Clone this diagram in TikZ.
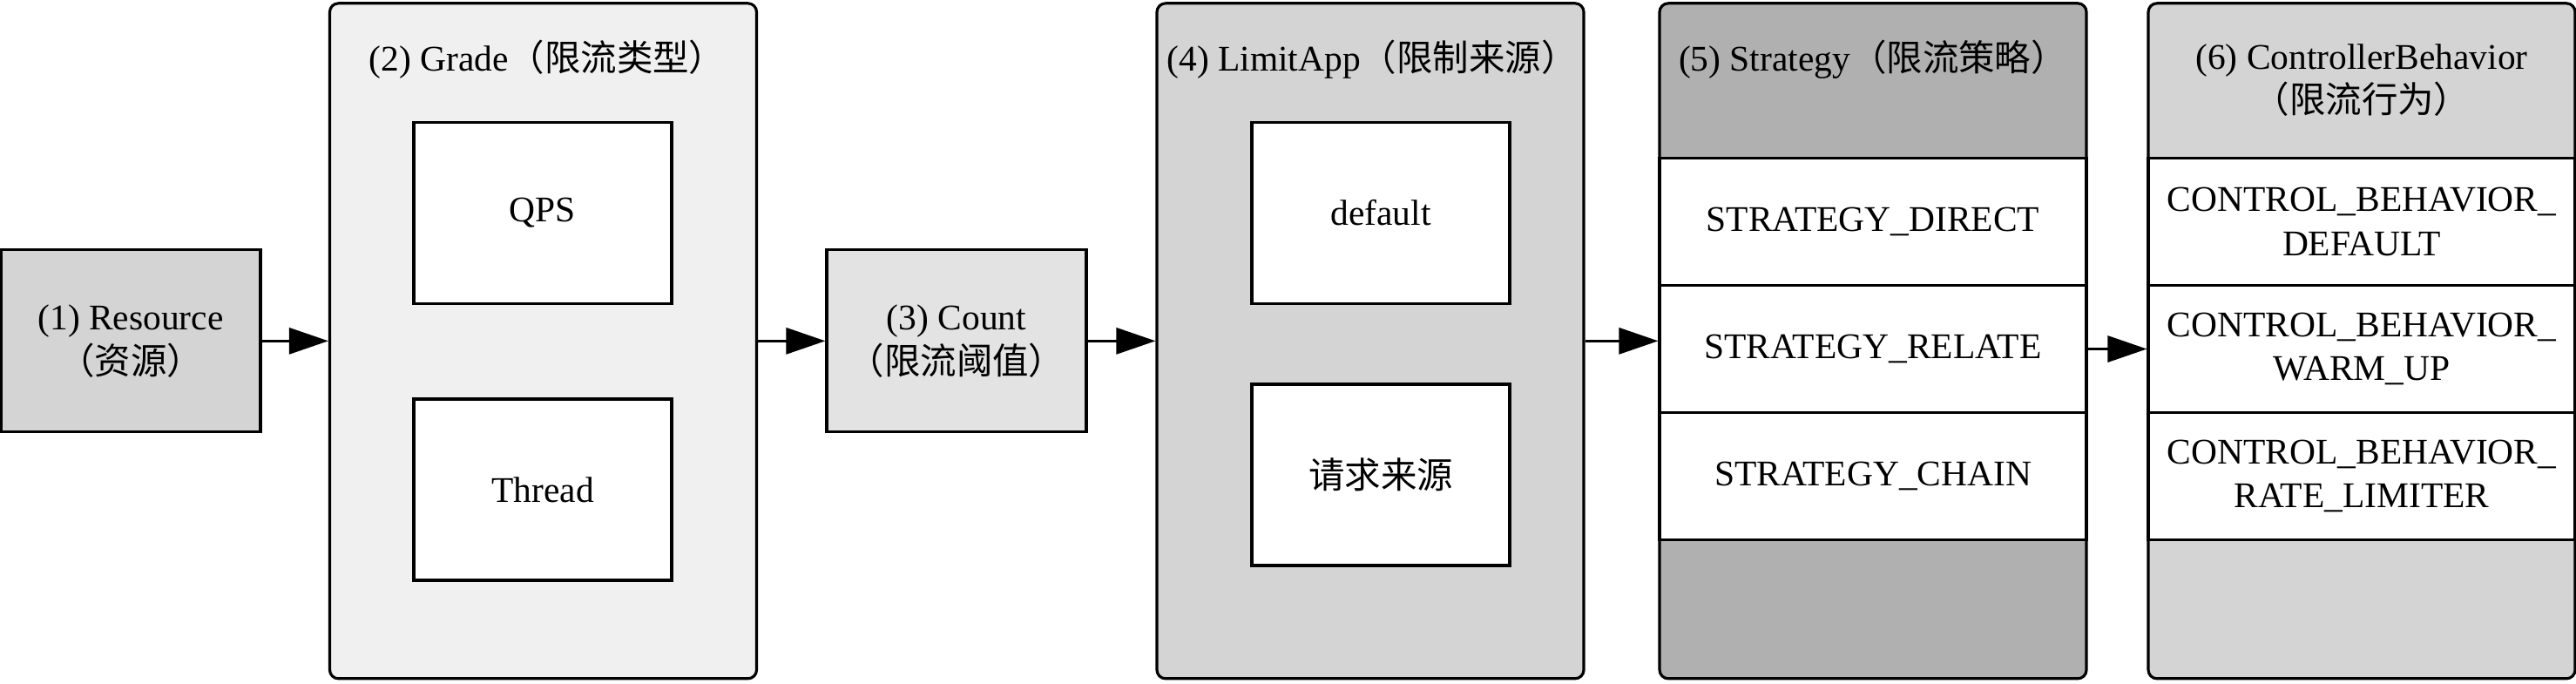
\documentclass[tikz,border=0pt]{standalone}
\usepackage{fontspec}
\setmainfont{Liberation Serif}
\newfontfamily\cjk{Noto Sans CJK SC}
\usetikzlibrary{arrows.meta}
\definecolor{resfill}{HTML}{D4D4D4}
\definecolor{gradefill}{HTML}{F0F0F0}
\definecolor{cntfill}{HTML}{E3E3E3}
\definecolor{limfill}{HTML}{D4D4D4}
\definecolor{stratfill}{HTML}{B0B0B0}
\definecolor{ctrlfill}{HTML}{D4D4D4}
\begin{document}
\begin{tikzpicture}[>={Triangle[length=4.5mm,width=3mm]}, line width=0.9pt,
        font=\fontsize{11.8}{14.4}\selectfont,
        sbox/.style={rectangle, draw, minimum width=2.98cm, minimum height=2.09cm, align=center, inner sep=2pt},
        panel/.style={rectangle, draw, rounded corners=1mm, minimum width=4.9cm, minimum height=7.75cm},
        ibox/.style={rectangle, draw, fill=white, minimum width=2.96cm, minimum height=2.08cm},
        rowbox/.style={rectangle, draw, fill=white, minimum width=4.9cm, minimum height=1.46cm, align=center, inner sep=1pt}]
        \useasboundingbox (0,0) rectangle (29.57,-7.846);
        % ---- (1) 资源 ----
        \node[sbox, fill=resfill] (res) at (1.50,-3.913) {(1) Resource\\{\cjk（资源）}};
        % ---- (2) 限流类型 ----
        \node[panel, fill=gradefill] (grade) at (6.235,-3.913) {};
        \node (gradeT) at (6.28,-0.68) {(2) Grade{\cjk（限流类型）}};
        \node[ibox] (qps) at (6.23,-2.442) {QPS};
        \node[ibox] (thread) at (6.23,-5.62) {Thread};
        % ---- (3) 限流阈值 ----
        \node[sbox, fill=cntfill] (cnt) at (10.98,-3.913) {(3) Count\\{\cjk（限流阈值）}};
        % ---- (4) 限制来源 ----
        \node[panel, fill=limfill] (lim) at (15.73,-3.913) {};
        \node (limT) at (15.75,-0.68) {(4) LimitApp{\cjk（限制来源）}};
        \node[ibox] (dflt) at (15.85,-2.442) {default};
        \node[ibox] (origin) at (15.85,-5.45) {\cjk 请求来源};
        % ---- (5) 限流策略 ----
        \node[panel, fill=stratfill] (strat) at (21.50,-3.913) {};
        \node (stratT) at (21.50,-0.68) {(5) Strategy{\cjk（限流策略）}};
        \foreach \i/\y/\txt in {1/-2.545/STRATEGY\_DIRECT, 2/-4.005/STRATEGY\_RELATE, 3/-5.465/STRATEGY\_CHAIN}
          \node[rowbox] (s\i) at (21.50,\y) {\txt};
        % ---- (6) 限流行为 ----
        \node[panel, fill=ctrlfill] (ctrl) at (27.11,-3.913) {};
        \node[align=center] (ctrlT) at (27.11,-0.92) {(6) ControllerBehavior\\{\cjk（限流行为）}};
        \foreach \i/\y/\txt in {1/-2.545/DEFAULT, 2/-4.005/WARM\_UP, 3/-5.465/RATE\_LIMITER}
          \node[rowbox] (c\i) at (27.11,\y) {CONTROL\_BEHAVIOR\_\\\txt};
        % ---- 连线 ----
        \foreach \a/\b in {res/grade, grade/cnt, cnt/lim, lim/strat, s2/c2}
          \draw[->] (\a) -- (\b);
\end{tikzpicture}
\end{document}
